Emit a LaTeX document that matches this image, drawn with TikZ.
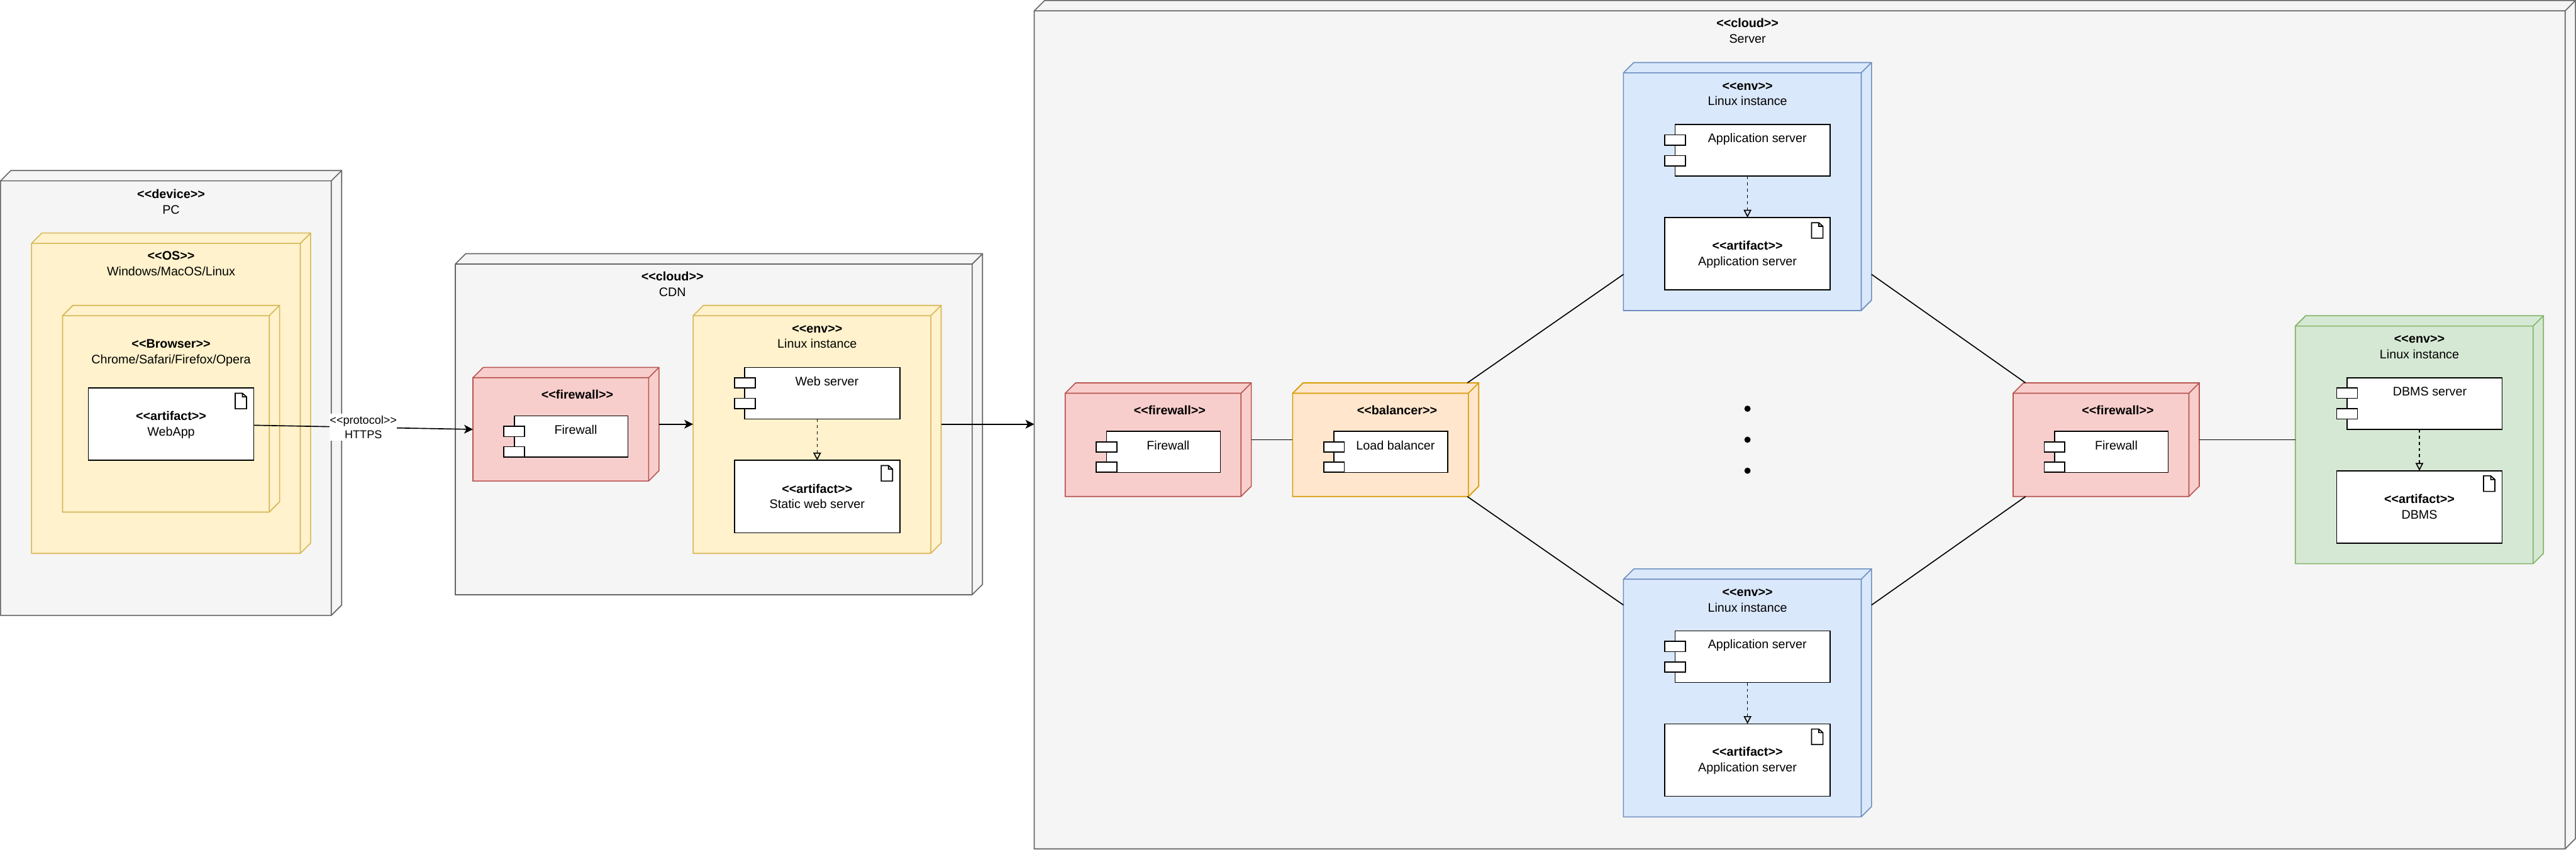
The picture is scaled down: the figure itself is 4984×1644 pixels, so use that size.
\documentclass[tikz,border=0pt]{standalone}
\usepackage{fontspec}
\usetikzlibrary{fit,arrows.meta}
\newfontfamily\lib{Liberation Sans}
\newcommand{\sth}{\rule{0pt}{2mm}}
\newcommand{\std}{\rule[-0.4mm]{0pt}{0.4mm}}
\tikzset{
  x=0.01cm,y=-0.01cm,
  every node/.style={inner sep=0pt,outer sep=0pt},
  frame/.style={inner sep=0pt,outer sep=0pt},
  dep/.style={line width=0.2mm,line join=miter},
  grayc/.style={dep,fill=graybg,draw=graybd},
  yell/.style={dep,fill=yelbg,draw=yelbd},
  redc/.style={dep,fill=redbg,draw=redbd},
  orac/.style={dep,fill=orabg,draw=orabd},
  bluc/.style={dep,fill=blubg,draw=blubd},
  grec/.style={dep,fill=grebg,draw=grebd},
  wbox/.style={fill=white,draw=black,line width=0.2mm},
  ttl/.style={font=\lib\fontsize{6.83}{8.54}\selectfont,align=center,text=black},
  proto/.style={font=\lib\fontsize{6.26}{7.97}\selectfont,align=center,fill=white,minimum width=12.9mm,minimum height=5.3mm,text=black},
  conn/.style={draw=black,line width=0.2mm},
  arr/.style={conn,-{Stealth[length=1.7mm,width=1.7mm,inset=0.45mm]}},
  dep arrow/.style={draw=black,line width=0.2mm,dash pattern=on 0.6mm off 0.6mm,-{Triangle[open,length=1.5mm,width=1.5mm,line width=0.2mm]}},
  dot/.style={circle,fill=black,minimum size=1.2mm},
}
\definecolor{graybg}{HTML}{F5F5F5}\definecolor{graybd}{HTML}{666666}
\definecolor{yelbg}{HTML}{FFF2CC}\definecolor{yelbd}{HTML}{D6B656}
\definecolor{redbg}{HTML}{F8CECC}\definecolor{redbd}{HTML}{B85450}
\definecolor{orabg}{HTML}{FFE6CC}\definecolor{orabd}{HTML}{D79B00}
\definecolor{blubg}{HTML}{DAE8FC}\definecolor{blubd}{HTML}{6C8EBF}
\definecolor{grebg}{HTML}{D5E8D4}\definecolor{grebd}{HTML}{82B366}
% name, x0, y back-top, x front-right, y bottom, style
\newcommand{\deploy}[6]{%
  \path[#6] (#2,#3+20) -- (#2+20,#3) -- (#4+20,#3) -- (#4+20,#5-20) -- (#4,#5) -- (#2,#5) -- cycle;
  \draw[#6,fill=none] (#2,#3+20) -- (#4,#3+20) -- (#4+20,#3) (#4,#3+20) -- (#4,#5);
  \node[frame,fit={(#2,#3)(#4+20,#5)}] (#1) {};
}
% name, x0, y0, x1, y1
\newcommand{\artif}[5]{%
  \node[frame,wbox,fit={(#2,#3)(#4,#5)}] (#1) {};
  \draw[black,fill=white,line width=0.2mm,line join=miter] (#4-36,#3+10) -- (#4-22,#3+10) -- (#4-14,#3+17) -- (#4-14,#3+40) -- (#4-36,#3+40) -- cycle
    (#4-22,#3+10) -- (#4-22,#3+17) -- (#4-14,#3+17);
}
% name, x port-left, y top, x right, y bottom, port1 top, port2 top
\newcommand{\comp}[7]{%
  \draw[wbox] (#2+20,#3) rectangle (#4,#5);
  \draw[wbox] (#2,#6) rectangle (#2+40,#6+20);
  \draw[wbox] (#2,#7) rectangle (#2+40,#7+20);
  \node[frame,fit={(#2,#3)(#4,#5)}] (#1) {};
}
% name, x, y, first line, second line
\newcommand{\twol}[5]{\node[ttl] (#1) at (#2,#3) {\sth\textbf{#4}\\#5\std};}
\newcommand{\onel}[5]{\node[ttl] (#1) at (#2,#3) {\sth #4#5\std};}
\begin{document}
\begin{tikzpicture}
\path[use as bounding box,fill=white] (0,0) rectangle (4984,1644);

% PC
\deploy{pc}{1}{330}{641}{1191}{grayc}
\twol{pct}{331}{391}{<<device>>}{PC}
\deploy{os}{61}{451}{581}{1071}{yell}
\twol{ost}{331}{510}{<<OS>>}{Windows/MacOS/Linux}
\deploy{br}{121}{591}{521}{991}{yell}
\twol{brt}{331}{681}{<<Browser>>}{Chrome/Safari/Firefox/Opera}
\artif{webapp}{171}{751}{491}{891}
\twol{webappt}{331}{821}{<<artifact>>}{WebApp}

% CDN
\deploy{cdn}{881}{491}{1881}{1151}{grayc}
\twol{cdnt}{1301}{550.5}{<<cloud>>}{CDN}
\deploy{fwa}{915}{711}{1255}{931}{redc}
\onel{fwat}{1117}{764}{\textbf{<<firewall>>}}{}
\comp{fwac}{975}{805}{1215}{884.5}{825}{864.5}
\onel{fwact}{1114}{832}{Firewall}{}
\deploy{cenv}{1341}{591}{1801}{1071}{yell}
\twol{cenvt}{1581}{651}{<<env>>}{Linux instance}
\comp{web}{1421}{711}{1741}{811}{731}{771}
\onel{webt}{1600}{738}{Web server}{}
\artif{stat}{1421}{891}{1741}{1031}
\twol{statt}{1581}{961}{<<artifact>>}{Static web server}

% Server
\deploy{srv}{2001}{1}{4963}{1643}{grayc}
\twol{srvt}{3381}{60.5}{<<cloud>>}{Server}
\deploy{fwb}{2061}{741}{2401}{961}{redc}
\onel{fwbt}{2263}{794}{\textbf{<<firewall>>}}{}
\comp{fwbc}{2121}{835}{2361}{914.5}{855}{894}
\onel{fwbct}{2260}{862}{Firewall}{}
\deploy{lb}{2501}{741}{2841}{961}{orac}
\onel{lbt}{2703}{794}{\textbf{<<balancer>>}}{}
\comp{lbc}{2561}{835}{2801}{914.5}{855}{894}
\onel{lbct}{2700}{862}{Load balancer}{}

\deploy{appa}{3141}{121}{3601}{601}{bluc}
\twol{appat}{3381}{181}{<<env>>}{Linux instance}
\comp{appac}{3221}{241}{3541}{341}{261}{301}
\onel{appact}{3400}{268}{Application server}{}
\artif{appaa}{3221}{421}{3541}{561}
\twol{appaat}{3381}{491}{<<artifact>>}{Application server}

\deploy{appb}{3141}{1101}{3601}{1581}{bluc}
\twol{appbt}{3381}{1161}{<<env>>}{Linux instance}
\comp{appbc}{3221}{1221}{3541}{1321}{1241}{1281}
\onel{appbct}{3400}{1248}{Application server}{}
\artif{appba}{3221}{1401}{3541}{1541}
\twol{appbat}{3381}{1471}{<<artifact>>}{Application server}

\node[dot] (da) at (3381,791) {};
\node[dot] (db) at (3381,851) {};
\node[dot] (dc) at (3381,911) {};

\deploy{fwc}{3895}{741}{4235}{961}{redc}
\onel{fwct}{4097.5}{794}{\textbf{<<firewall>>}}{}
\comp{fwcc}{3955}{835}{4195}{914.5}{855}{894}
\onel{fwcct}{4094.5}{862}{Firewall}{}

\deploy{dbe}{4441}{611}{4901}{1091}{grec}
\twol{dbet}{4681}{671}{<<env>>}{Linux instance}
\comp{dbc}{4521}{731}{4841}{831}{751}{791}
\onel{dbct}{4701}{758}{DBMS server}{}
\artif{dba}{4521}{911}{4841}{1051}
\twol{dbat}{4681}{981}{<<artifact>>}{DBMS}

% connectors
\draw[dep arrow] (web.south) -- (stat.north);
\draw[dep arrow] (appac.south) -- (appaa.north);
\draw[dep arrow] (appbc.south) -- (appba.north);
\draw[dep arrow] (dbc.south) -- (dba.north);

\draw[arr] ([shift={(0,2)}]webapp.east) -- node[proto] (pl) {<<protocol>>\\HTTPS} ([shift={(0,10)}]fwa.west);
\draw[arr] (fwa.east) -- ([shift={(0,-10)}]cenv.west);
\draw[arr] ([shift={(0,-10)}]cenv.east) -- ([shift={(0,-1)}]srv.west);

\draw[conn] (fwb.east) -- (lb.west);
\draw[conn] ([shift={(158,0)}]lb.north) -- ([shift={(0,170)}]appa.west);
\draw[conn] ([shift={(158,0)}]lb.south) -- ([shift={(0,-170)}]appb.west);
\draw[conn] ([shift={(0,170)}]appa.east) -- ([shift={(-156,0)}]fwc.north);
\draw[conn] ([shift={(0,-170)}]appb.east) -- ([shift={(-156,0)}]fwc.south);
\draw[conn] (fwc.east) -- (dbe.west);
\end{tikzpicture}
\end{document}
